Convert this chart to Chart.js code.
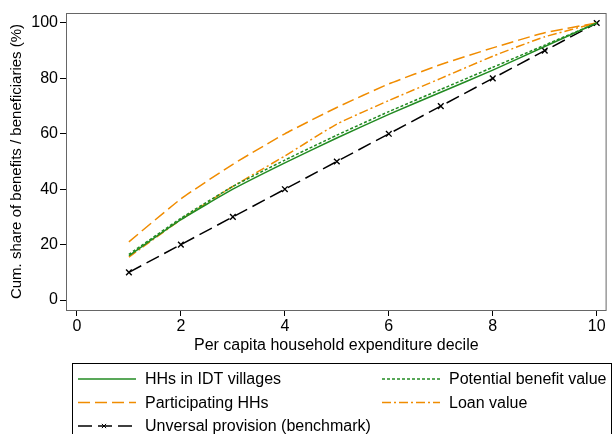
<!DOCTYPE html>
<html>
<head>
<meta charset="utf-8">
<script src="https://cdn.jsdelivr.net/npm/chart.js@4/dist/chart.umd.min.js"></script>
<style>
  html, body { margin: 0; padding: 0; background: #fff; }
  #wrap { width: 612px; height: 434px; }
</style>
</head>
<body>
<div id="wrap"><canvas id="chart" width="612" height="434"></canvas></div>
<script>
const deciles = [1, 2, 3, 4, 5, 6, 7, 8, 9, 10];
const hhsIdt = [16, 29, 40, 49.5, 58.5, 67, 75, 83, 91.5, 100];
const potentialBenefit = [16.5, 29.5, 41, 50.5, 59.5, 68, 76, 84, 92, 100];
const participating = [21, 36.5, 49, 60, 69.5, 78, 85, 91, 96.5, 100];
const loanValue = [15.5, 29, 41, 52, 63.5, 72, 80, 88, 95, 100];
const universal = [10, 20, 30, 40, 50, 60, 70, 80, 90, 100];
const xTicks = [0, 2, 4, 6, 8, 10];
const yTicks = [0, 20, 40, 60, 80, 100];

const GREEN = '#228b22';
const ORANGE = '#f08c00';
const FONT = '"Liberation Sans", Arial, sans-serif';

const toPoints = vals => deciles.map((d, i) => ({x: d, y: vals[i]}));

const series = (label, vals, color, dash, extra) => Object.assign({
  label,
  data: toPoints(vals),
  borderColor: color,
  backgroundColor: color,
  borderWidth: 1.5,
  borderDash: dash,
  pointRadius: 0,
  tension: 0.15,
  fill: false,
}, extra || {});

// plot region outline
const boxPlugin = {
  id: 'box',
  afterDraw(chart) {
    const {ctx, chartArea: a} = chart;
    ctx.save();
    ctx.strokeStyle = '#666';
    ctx.lineWidth = 1;
    ctx.strokeRect(a.left + 0.5, a.top + 0.5, a.right - a.left - 1, a.bottom - a.top);
    ctx.restore();
  }
};

// Stata-like legend box below the axis
const legendPlugin = {
  id: 'stataLegend',
  afterDraw(chart) {
    const {ctx} = chart;
    const ds = chart.data.datasets;
    const slots = [
      {i: 0, x: 78, y: 379}, {i: 1, x: 382, y: 379},
      {i: 2, x: 78, y: 402.5}, {i: 3, x: 382, y: 402.5},
      {i: 4, x: 78, y: 426}
    ];
    ctx.save();
    ctx.strokeStyle = '#000';
    ctx.lineWidth = 1;
    ctx.strokeRect(72.5, 363.5, 539, 80);
    ctx.font = '16px ' + FONT;
    ctx.textBaseline = 'middle';
    slots.forEach(s => {
      const d = ds[s.i];
      ctx.save();
      ctx.strokeStyle = d.borderColor;
      ctx.lineWidth = d.borderWidth;
      ctx.setLineDash(d.borderDash || []);
      ctx.beginPath();
      ctx.moveTo(s.x, s.y);
      ctx.lineTo(s.x + 58, s.y);
      ctx.stroke();
      ctx.restore();
      if (d.pointStyle === 'crossRot') {
        Chart.helpers.drawPoint(ctx, {pointStyle: 'crossRot', radius: 3, borderWidth: 1.3},
          s.x + 26, s.y);
      }
      ctx.fillStyle = '#000';
      ctx.fillText(d.label, s.x + 67, s.y + 1);
    });
    ctx.restore();
  }
};

new Chart(document.getElementById('chart'), {
  type: 'line',
  data: {
    datasets: [
      series('HHs in IDT villages', hhsIdt, GREEN, []),
      series('Potential benefit value', potentialBenefit, GREEN, [3, 2]),
      series('Participating HHs', participating, ORANGE, [12, 5]),
      series('Loan value', loanValue, ORANGE, [9, 3, 2, 3]),
      series('Unversal provision (benchmark)', universal, '#000', [14, 6], {
        pointStyle: 'crossRot', pointRadius: 4, pointBorderWidth: 1.4,
        pointBorderColor: '#000', tension: 0
      })
    ]
  },
  options: {
    responsive: false,
    animation: false,
    layout: {padding: {top: 13, right: 1, bottom: 79, left: 0}},
    plugins: {legend: {display: false}, tooltip: {enabled: false}},
    scales: {
      x: {
        type: 'linear',
        min: -0.21,
        max: 10.19,
        afterBuildTicks: s => { s.ticks = xTicks.map(v => ({value: v})); },
        afterFit: s => { s.height = 45; },
        grid: {drawOnChartArea: false, drawTicks: true, tickLength: 6, color: '#000'},
        border: {display: false},
        ticks: {color: '#000', padding: 1, maxRotation: 0, font: {family: FONT, size: 16}},
        title: {display: true, text: 'Per capita household expenditure decile', color: '#000',
          padding: {top: 0, bottom: 0}, font: {family: FONT, size: 16}}
      },
      y: {
        min: -3.6,
        max: 103.6,
        afterBuildTicks: s => { s.ticks = yTicks.map(v => ({value: v})); },
        afterFit: s => { s.width = 66; },
        grid: {drawOnChartArea: false, drawTicks: true, tickLength: 6, color: '#000'},
        border: {display: false},
        ticks: {color: '#000', padding: 2, font: {family: FONT, size: 16}},
        title: {display: true, text: 'Cum. share of benefits / beneficiaries (%)', color: '#000',
          padding: {top: 8, bottom: 0}, font: {family: FONT, size: 15}}
      }
    }
  },
  plugins: [boxPlugin, legendPlugin]
});
</script>
</body>
</html>
